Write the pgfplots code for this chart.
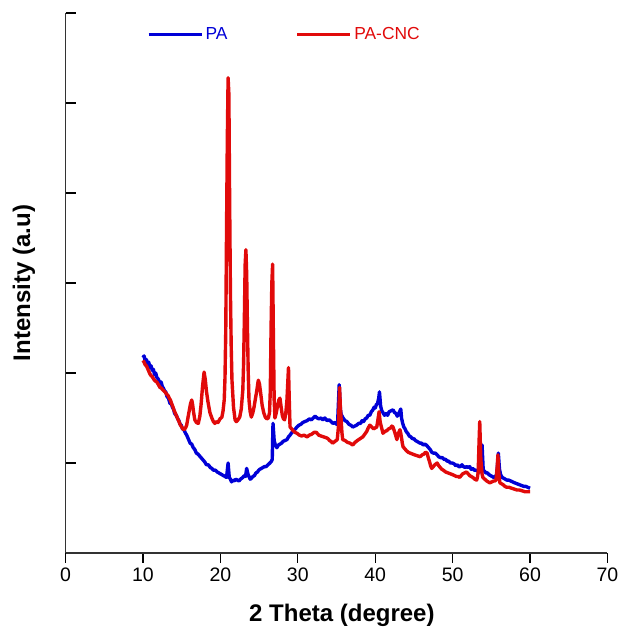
\documentclass[border=0pt]{standalone}
\usepackage{pgfplots}
\pgfplotsset{compat=1.18}
\usepackage{fontspec}
\setmainfont{Liberation Sans}
\definecolor{pablue}{RGB}{0,0,215}
\definecolor{pared}{RGB}{225,10,10}
\begin{document}
\begin{tikzpicture}
\begin{axis}[
  at={(0,0)}, anchor=south west,
  scale only axis, width=271pt, height=270pt,
  xmin=0, xmax=70, ymin=0, ymax=6,
  axis x line=bottom, axis y line=left,
  axis line style={-, black!80, line width=0.6pt},
  xtick={0,10,...,70}, ytick={0,1,...,6},
  yticklabels={},
  tick align=inside,
  major tick length=5pt,
  every tick/.style={black, line width=0.6pt},
  x tick style={yshift=-5pt},
  /pgf/number format/assume math mode=true,
  tick label style={font=\fontsize{9.75}{11}\selectfont},
  x tick label style={yshift=-4pt},
  xlabel={\textbf{2 Theta (degree)}},
  ylabel={\textbf{Intensity (a.u)}},
  label style={font=\fontsize{12}{14}\selectfont},
  xlabel style={at={(axis description cs:0.51,0)}, anchor=center, yshift=-31pt},
  ylabel style={at={([xshift=-20.75pt]axis description cs:0,0.5)}, anchor=center},
  legend style={at={(axis cs:10.5,5.76)}, anchor=west, draw=none, fill=none,
    font=\fontsize{8.7}{10}\selectfont, inner sep=0pt,
    nodes={inner sep=1.2pt},
    /tikz/every even column/.append style={column sep=33pt}},
  legend columns=2,
  legend image code/.code={\draw[#1,line width=1.5pt] (0pt,0pt) -- (26.5pt,0pt);},
  clip=false,
]
\addplot[pablue, line width=1.7pt, line join=round] coordinates {
(10.0,2.17) (10.15,2.19) (10.3,2.13) (10.45,2.15) (10.6,2.10) (10.75,2.12) (10.9,2.06)
(11.05,2.08) (11.2,2.03) (11.35,2.04) (11.5,1.98) (11.65,2.00) (11.8,1.95) (12.0,1.93)
(12.2,1.88) (12.35,1.90) (12.5,1.85) (12.65,1.83) (12.8,1.80) (12.95,1.79) (13.1,1.74)
(13.3,1.72) (13.5,1.66) (13.65,1.67) (13.8,1.62) (13.95,1.60) (14.1,1.55) (14.3,1.53)
(14.5,1.49) (14.65,1.47) (14.8,1.43) (14.95,1.42) (15.1,1.38) (15.3,1.37) (15.5,1.33)
(15.65,1.31) (15.8,1.28) (15.95,1.25) (16.1,1.22) (16.3,1.21) (16.5,1.17) (16.7,1.15)
(16.9,1.11) (17.1,1.10) (17.4,1.07) (17.6,1.05) (17.8,1.03) (18.0,1.01) (18.2,0.98)
(18.45,0.98) (18.7,0.95) (18.9,0.94) (19.1,0.92) (19.35,0.92) (19.6,0.90) (19.8,0.89)
(20.0,0.88) (20.2,0.87) (20.4,0.86) (20.6,0.85) (20.8,0.84) (21.0,1.00) (21.15,0.84)
(21.3,0.82) (21.45,0.79) (21.6,0.81) (21.8,0.80) (22.0,0.82) (22.2,0.81) (22.4,0.80)
(22.6,0.82) (22.9,0.84) (23.1,0.86) (23.25,0.85) (23.4,0.94) (23.55,0.88) (23.7,0.85)
(23.85,0.82) (24.0,0.83) (24.2,0.85) (24.4,0.86) (24.6,0.89) (24.8,0.90) (24.95,0.92)
(25.1,0.93) (25.3,0.94) (25.5,0.95) (25.7,0.96) (25.9,0.96) (26.15,0.98) (26.4,1.00)
(26.6,1.02) (26.7,1.04) (26.8,1.44) (26.95,1.25) (27.1,1.20) (27.3,1.17) (27.5,1.20)
(27.7,1.21) (27.9,1.22) (28.1,1.24) (28.35,1.25) (28.6,1.26) (28.8,1.29) (29.0,1.31)
(29.25,1.34) (29.5,1.36) (29.7,1.38) (29.9,1.40) (30.15,1.42) (30.4,1.43) (30.65,1.45)
(30.9,1.46) (31.2,1.47) (31.5,1.49) (31.75,1.48) (32.0,1.50) (32.25,1.52) (32.5,1.50)
(32.75,1.49) (33.0,1.50) (33.25,1.48) (33.5,1.50) (33.8,1.47) (34.05,1.48) (34.3,1.46)
(34.55,1.44) (34.8,1.45) (35.0,1.43) (35.15,1.46) (35.35,1.87) (35.5,1.60) (35.6,1.54)
(35.85,1.50) (36.1,1.47) (36.35,1.46) (36.6,1.43) (36.85,1.42) (37.1,1.40) (37.35,1.41)
(37.6,1.42) (37.85,1.44) (38.1,1.44) (38.3,1.47) (38.5,1.46) (38.7,1.49) (38.9,1.50)
(39.1,1.53) (39.3,1.53) (39.5,1.57) (39.7,1.59) (39.85,1.62) (40.0,1.61) (40.15,1.65)
(40.3,1.66) (40.45,1.72) (40.55,1.79) (40.7,1.63) (40.85,1.58) (41.0,1.56) (41.2,1.53)
(41.4,1.55) (41.6,1.53) (41.8,1.57) (42.05,1.58) (42.3,1.59) (42.5,1.56) (42.7,1.55)
(42.85,1.52) (43.0,1.54) (43.15,1.57) (43.3,1.60) (43.4,1.50) (43.55,1.44) (43.7,1.40)
(43.85,1.38) (44.0,1.35) (44.2,1.33) (44.4,1.30) (44.6,1.29) (44.8,1.27) (45.0,1.27)
(45.2,1.25) (45.4,1.24) (45.6,1.23) (45.8,1.22) (46.0,1.22) (46.2,1.20) (46.45,1.21)
(46.7,1.19) (46.9,1.17) (47.1,1.15) (47.3,1.12) (47.5,1.11) (47.75,1.11) (48.0,1.09)
(48.2,1.07) (48.4,1.06) (48.65,1.06) (48.9,1.04) (49.1,1.04) (49.3,1.02) (49.5,1.02)
(49.7,1.00) (49.95,1.00) (50.2,0.99) (50.4,0.97) (50.6,0.98) (50.8,0.96) (51.0,0.96)
(51.2,0.98) (51.4,0.96) (51.6,0.95) (51.8,0.96) (52.0,0.95) (52.2,0.96) (52.4,0.93)
(52.6,0.94) (52.8,0.92) (53.0,0.92) (53.25,0.91) (53.5,0.90) (53.65,0.94) (53.8,1.20)
(53.95,0.92) (54.1,0.91) (54.3,0.89) (54.5,0.89) (54.7,0.87) (54.9,0.86) (55.1,0.85)
(55.3,0.84) (55.5,0.85) (55.7,0.87) (55.9,1.11) (56.05,0.93) (56.2,0.87) (56.4,0.84)
(56.6,0.83) (56.8,0.82) (57.0,0.81) (57.25,0.81) (57.5,0.80) (57.75,0.79) (58.0,0.78)
(58.3,0.77) (58.6,0.76) (58.9,0.75) (59.2,0.74) (59.45,0.74) (59.7,0.73) (60.0,0.72)
};
\addlegendentry{\textcolor{pablue}{PA}}
\addplot[pared, line width=1.7pt, line join=round] coordinates {
(10.0,2.14) (10.15,2.12) (10.3,2.09) (10.45,2.08) (10.6,2.05) (10.75,2.02) (10.9,1.99)
(11.05,1.97) (11.2,1.96) (11.4,1.93) (11.6,1.91) (11.8,1.90) (12.0,1.87) (12.2,1.84)
(12.4,1.83) (12.6,1.81) (12.85,1.79) (13.1,1.76) (13.25,1.75) (13.4,1.72) (13.55,1.70)
(13.7,1.66) (13.85,1.63) (14.0,1.59) (14.2,1.55) (14.4,1.51) (14.55,1.48) (14.7,1.45)
(14.85,1.42) (15.0,1.40) (15.15,1.38) (15.3,1.37) (15.5,1.39) (15.65,1.42) (15.85,1.52)
(16.0,1.59) (16.15,1.66) (16.3,1.70) (16.4,1.66) (16.55,1.56) (16.7,1.48) (16.9,1.45)
(17.15,1.44) (17.35,1.52) (17.5,1.64) (17.7,1.85) (17.9,2.01) (18.05,1.93) (18.2,1.80)
(18.4,1.68) (18.65,1.56) (18.9,1.50) (19.1,1.46) (19.3,1.44) (19.5,1.46) (19.7,1.45)
(19.95,1.49) (20.2,1.51) (20.35,1.58) (20.5,1.70) (20.6,1.95) (20.7,2.48) (20.8,3.60)
(20.9,4.60) (21.0,5.28) (21.1,5.10) (21.2,3.90) (21.3,2.90) (21.4,2.30) (21.5,1.92)
(21.7,1.62) (21.9,1.48) (22.05,1.46) (22.2,1.47) (22.35,1.49) (22.5,1.51) (22.7,1.60)
(22.9,1.81) (23.0,2.10) (23.1,2.60) (23.2,3.20) (23.3,3.37) (23.4,3.10) (23.5,2.50)
(23.6,2.00) (23.7,1.70) (23.85,1.57) (24.0,1.51) (24.2,1.56) (24.35,1.62) (24.5,1.70)
(24.7,1.80) (24.9,1.92) (25.05,1.88) (25.2,1.78) (25.4,1.64) (25.6,1.56) (25.8,1.51)
(26.0,1.49) (26.2,1.50) (26.35,1.56) (26.45,1.80) (26.55,2.50) (26.65,3.00) (26.75,3.21)
(26.85,2.40) (26.95,1.70) (27.05,1.50) (27.2,1.55) (27.4,1.64) (27.55,1.70) (27.7,1.72)
(27.85,1.62) (28.0,1.53) (28.15,1.49) (28.3,1.48) (28.45,1.55) (28.6,1.70) (28.7,1.88)
(28.8,2.06) (28.9,1.70) (29.0,1.40) (29.2,1.38) (29.4,1.36) (29.65,1.34) (29.9,1.33)
(30.2,1.31) (30.5,1.30) (30.8,1.31) (31.2,1.29) (31.5,1.31) (31.8,1.32) (32.1,1.34)
(32.4,1.34) (32.7,1.31) (33.0,1.30) (33.35,1.29) (33.7,1.28) (33.9,1.27) (34.1,1.25)
(34.3,1.24) (34.5,1.22) (34.8,1.24) (35.1,1.26) (35.25,1.40) (35.4,1.84) (35.5,1.62)
(35.6,1.48) (35.7,1.34) (35.8,1.26) (36.1,1.25) (36.4,1.23) (36.75,1.22) (37.1,1.20)
(37.4,1.23) (37.7,1.25) (38.05,1.27) (38.4,1.29) (38.65,1.32) (38.9,1.35) (39.1,1.39)
(39.3,1.42) (39.55,1.40) (39.8,1.38) (40.0,1.39) (40.2,1.40) (40.35,1.48) (40.5,1.57)
(40.65,1.45) (40.8,1.40) (41.0,1.33) (41.25,1.35) (41.5,1.36) (41.75,1.38) (42.0,1.39)
(42.15,1.41) (42.3,1.40) (42.45,1.36) (42.6,1.32) (42.8,1.26) (42.9,1.30) (43.0,1.33)
(43.2,1.37) (43.3,1.33) (43.4,1.28) (43.5,1.22) (43.6,1.18) (43.8,1.16) (44.0,1.14)
(44.25,1.12) (44.5,1.11) (44.8,1.10) (45.1,1.09) (45.45,1.08) (45.8,1.07) (46.05,1.09)
(46.3,1.10) (46.5,1.12) (46.7,1.11) (46.85,1.06) (47.0,1.02) (47.15,0.97) (47.3,0.94)
(47.5,0.96) (47.7,0.98) (47.85,0.99) (48.0,1.00) (48.2,0.97) (48.4,0.95) (48.6,0.93)
(48.8,0.92) (49.1,0.90) (49.4,0.89) (49.7,0.88) (50.0,0.87) (50.25,0.86) (50.5,0.85)
(50.7,0.85) (50.9,0.84) (51.1,0.86) (51.3,0.88) (51.55,0.89) (51.8,0.90) (52.0,0.88)
(52.2,0.86) (52.4,0.85) (52.6,0.84) (52.85,0.82) (53.1,0.81) (53.2,0.84) (53.3,0.90)
(53.4,1.20) (53.5,1.46) (53.6,1.15) (53.65,1.03) (53.8,0.88) (53.9,0.84) (54.15,0.82)
(54.4,0.80) (54.6,0.79) (54.8,0.78) (55.05,0.79) (55.3,0.80) (55.45,0.80) (55.6,0.81)
(55.75,0.95) (55.85,1.09) (55.95,0.90) (56.1,0.78) (56.3,0.77) (56.5,0.76) (56.75,0.74)
(57.0,0.73) (57.3,0.73) (57.6,0.72) (57.95,0.71) (58.3,0.70) (58.65,0.70) (59.0,0.69)
(59.35,0.68) (59.7,0.68) (60.0,0.68)
};
\addlegendentry{\textcolor{pared}{PA-CNC}}
\end{axis}
\pgfresetboundingbox
\path[use as bounding box] (-32.75pt,-38.5pt) rectangle (275.75pt,276.5pt);
\end{tikzpicture}
\end{document}
